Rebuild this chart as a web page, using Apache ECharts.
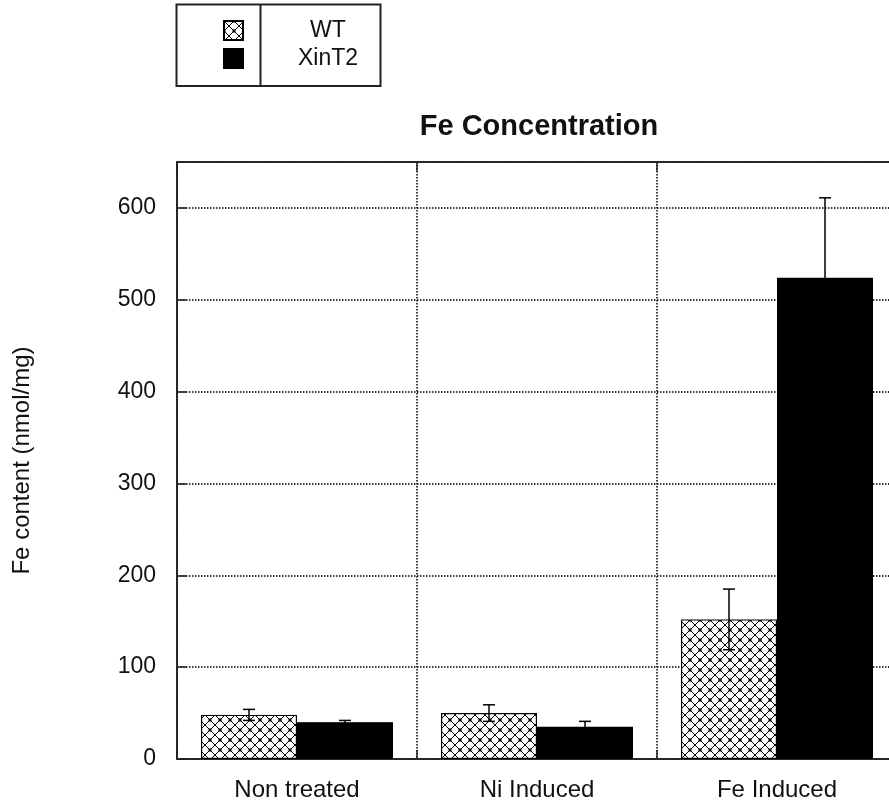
<!DOCTYPE html>
<html>
<head>
<meta charset="utf-8">
<script src="https://cdn.jsdelivr.net/npm/echarts@6/dist/echarts.min.js"></script>
<style>
html,body{margin:0;padding:0;background:#fff;overflow:hidden;}
#chart{width:900px;height:805px;}
</style>
</head>
<body>
<div id="chart"></div>
<script>
var categories = ['Non treated', 'Ni Induced', 'Fe Induced'];
var seriesNames = ['WT', 'XinT2'];
var wtMean = [48, 50, 152];
var wtErr = [6, 9, 33];
var xinMean = [40, 35, 524];
var xinErr = [2, 6, 87];
var yTicks = [0, 100, 200, 300, 400, 500, 600];

var FONT = '"Liberation Sans", Arial, sans-serif';
var INK = '#111';

// cross-hatch pattern tile
var tile = document.createElement('canvas');
tile.width = 10; tile.height = 10;
var c = tile.getContext('2d');
c.fillStyle = '#fff'; c.fillRect(0, 0, 10, 10);
c.strokeStyle = '#000'; c.lineWidth = 1;
c.beginPath();
c.moveTo(0, 0); c.lineTo(10, 10);
c.moveTo(10, 0); c.lineTo(0, 10);
c.stroke();
c.fillStyle = '#000';
c.fillRect(4, 4, 2, 2);
c.fillRect(0, 0, 1.5, 1.5); c.fillRect(8.5, 0, 1.5, 1.5);
c.fillRect(0, 8.5, 1.5, 1.5); c.fillRect(8.5, 8.5, 1.5, 1.5);
var hatch = { image: tile, repeat: 'repeat' };

function errData(means, errs, side) {
  return means.map(function (m, i) { return [i, m, errs[i], side]; });
}

function renderErr(params, api) {
  var i = api.value(0), m = api.value(1), e = api.value(2), side = api.value(3);
  var band = api.size([1, 0])[0];
  var x = api.coord([i, m])[0] + side * 0.2 * band;
  var yTop = api.coord([i, m + e])[1];
  var yBot = api.coord([i, Math.max(m - e, 0)])[1];
  var cap = 6;
  var st = { stroke: '#000', lineWidth: 1.5 };
  return {
    type: 'group',
    children: [
      { type: 'line', shape: { x1: x, y1: yTop, x2: x, y2: yBot }, style: st },
      { type: 'line', shape: { x1: x - cap, y1: yTop, x2: x + cap, y2: yTop }, style: st },
      { type: 'line', shape: { x1: x - cap, y1: yBot, x2: x + cap, y2: yBot }, style: st }
    ]
  };
}

var chart = echarts.init(document.getElementById('chart'), null, { renderer: 'canvas' });
var dotted = { type: [1.5, 1.5], color: '#000', width: 1.5 };
var axisLine = { show: true, onZero: false, lineStyle: { color: '#222', width: 1.5 } };
var tick = { show: true, inside: true, length: 9, lineStyle: { color: '#222', width: 1.5 } };

chart.setOption({
  backgroundColor: '#fff',
  animation: false,
  title: {
    text: 'Fe Concentration',
    left: 534, top: 107, textAlign: 'center',
    textStyle: { fontFamily: FONT, fontSize: 29, fontWeight: 'bold', color: INK }
  },
  legend: {
    data: seriesNames,
    orient: 'vertical',
    left: 218, top: 14,
    itemWidth: 19, itemHeight: 19, itemGap: 5,
    icon: 'rect',
    formatter: function (n) { return '{sp| }{t|' + n + '}'; },
    textStyle: {
      fontFamily: FONT, fontSize: 23, color: INK, lineHeight: 19,
      rich: {
        sp: { width: 40, lineHeight: 19, fontSize: 23 },
        t: { width: 80, align: 'center', lineHeight: 19, fontSize: 23, fontFamily: FONT, color: INK }
      }
    }
  },
  graphic: [
    { type: 'rect', shape: { x: 176.5, y: 4.5, width: 204, height: 81.5 }, style: { fill: 'none', stroke: '#222', lineWidth: 2 }, z: 10 },
    { type: 'line', shape: { x1: 260.5, y1: 4.5, x2: 260.5, y2: 86 }, style: { stroke: '#222', lineWidth: 2 }, z: 10 }
  ],
  grid: { left: 177, top: 162, right: 3, bottom: 46, show: true, borderColor: '#222', borderWidth: 1.5, backgroundColor: 'transparent' },
  xAxis: [{
    type: 'category',
    data: categories,
    boundaryGap: true,
    position: 'bottom',
    axisLine: axisLine,
    axisTick: tick,
    axisLabel: { margin: 19, fontFamily: FONT, fontSize: 24, color: INK },
    splitLine: { show: true, lineStyle: dotted }
  }, {
    type: 'category',
    data: categories,
    position: 'top',
    boundaryGap: true,
    axisLine: axisLine,
    axisTick: tick,
    axisLabel: { show: false },
    splitLine: { show: false }
  }],
  yAxis: [{
    type: 'value',
    min: 0, max: 650, interval: 100,
    position: 'left',
    name: 'Fe content (nmol/mg)',
    nameLocation: 'middle',
    nameGap: 143,
    nameRotate: 90,
    nameTextStyle: { fontFamily: FONT, fontSize: 24, color: INK },
    axisLine: axisLine,
    axisTick: tick,
    axisLabel: {
      margin: 21, fontFamily: FONT, fontSize: 23, color: INK, showMaxLabel: false,
      formatter: function (v) { return yTicks.indexOf(v) >= 0 ? String(v) : ''; }
    },
    splitLine: { show: true, lineStyle: dotted }
  }, {
    type: 'value',
    min: 0, max: 650, interval: 100,
    position: 'right',
    axisLine: axisLine,
    axisTick: tick,
    axisLabel: { show: false },
    splitLine: { show: false }
  }],
  series: [
    {
      name: 'WT', type: 'bar', data: wtMean,
      barGap: '0%', barCategoryGap: '20%',
      itemStyle: { color: hatch, borderColor: '#000', borderWidth: 1.2 }
    },
    {
      name: 'XinT2', type: 'bar', data: xinMean,
      barGap: '0%', barCategoryGap: '20%',
      itemStyle: { color: '#000', borderColor: '#000', borderWidth: 1.2 }
    },
    {
      type: 'custom', renderItem: renderErr, data: errData(wtMean, wtErr, -1),
      encode: { x: 0, y: 1 }, z: 5, silent: true
    },
    {
      type: 'custom', renderItem: renderErr, data: errData(xinMean, xinErr, 1),
      encode: { x: 0, y: 1 }, z: 5, silent: true
    }
  ]
});
</script>
</body>
</html>
